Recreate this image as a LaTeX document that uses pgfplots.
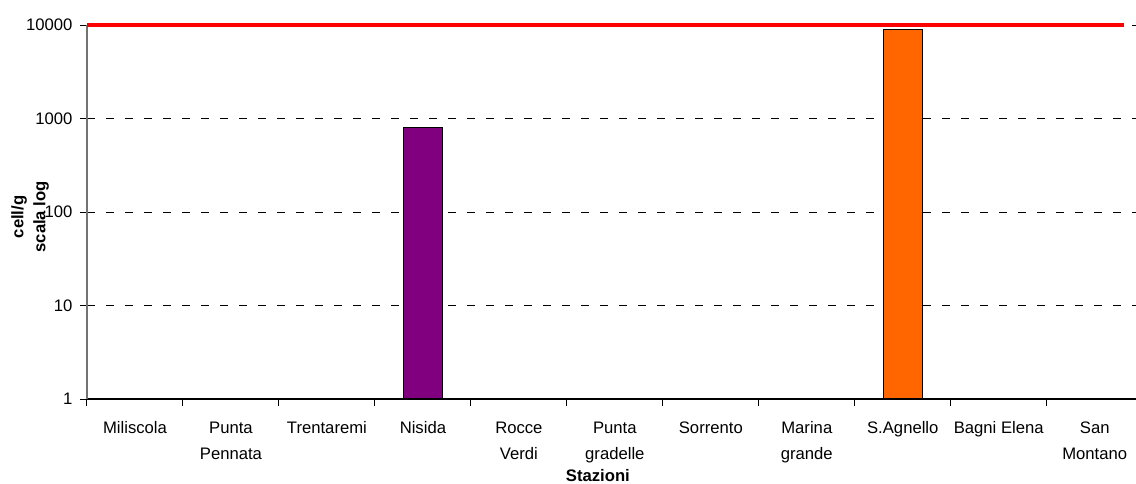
\documentclass[border=0pt]{standalone}
\usepackage{fontspec}
\setmainfont{Liberation Sans}
\usepackage{pgfplots}
\pgfplotsset{compat=1.18}
\definecolor{barpurple}{HTML}{800080}
\definecolor{barorange}{HTML}{FF6600}
\begin{document}
\fontsize{10}{15}\selectfont
\begin{tikzpicture}
\begin{axis}[
  scale only axis, width=629.4pt, height=224.4pt,
  ymode=log, ymin=1, ymax=10000, xmin=-0.5, xmax=10.43,
  clip=false,
  axis lines*=left,
  x axis line style={black, line width=0.8pt},
  y axis line style={black!55, line width=0.8pt},
  ytick={1,10,100,1000,10000}, yticklabels={1,10,100,1000,10000},
  yminorticks=false,
  ymajorgrids, grid style={black, dash pattern=on 4.8pt off 6.6pt, line width=0.6pt},
  xtick={-0.5,0.5,...,9.5}, xticklabels={},
  extra x ticks={0,1,2,3,4,5,6,7,8,9,10},
  extra x tick labels={Miliscola,{Punta\\Pennata},Trentaremi,Nisida,{Rocce\\Verdi},{Punta\\gradelle},Sorrento,{Marina\\grande},S.Agnello,Bagni Elena,{San\\Montano}},
  extra x tick style={major tick length=0pt, grid=none},
  tick align=outside, major tick length=4pt,
  tick style={black, line width=0.6pt},
  /pgf/number format/assume math mode=true,
  yticklabel style={font=\fontsize{10}{12}\selectfont, inner sep=0pt, xshift=-4.5pt},
  xticklabel style={font=\fontsize{10}{15.6}\selectfont, align=center, anchor=north, yshift=-10pt},
  xlabel={Stazioni},
  xlabel style={font=\fontsize{10}{12}\selectfont\bfseries, at={(axis description cs:0.487,0)}, anchor=center, yshift=-46.2pt},
  ylabel={cell/g\\scala log},
  ylabel style={font=\fontsize{10}{13.2}\selectfont\bfseries, align=center, at={(axis description cs:-0.0543,0.487)}, anchor=center},
]
% Nisida
\addplot[ybar, bar width=23.4pt, bar shift=0pt, fill=barpurple, draw=black, line width=0.9pt] coordinates {(3,800)};
% S.Agnello
\addplot[ybar, bar width=23.4pt, bar shift=0pt, fill=barorange, draw=black, line width=0.9pt] coordinates {(8,9000)};
% threshold line
\addplot[red, line width=2.4pt] coordinates {(-0.5,10000) (10.31,10000)};
\end{axis}
\pgfresetboundingbox
\useasboundingbox ([shift={(-52.2pt,-50.4pt)}]current axis.south west) rectangle ([shift={(0pt,15pt)}]current axis.north east);
\end{tikzpicture}
\end{document}
